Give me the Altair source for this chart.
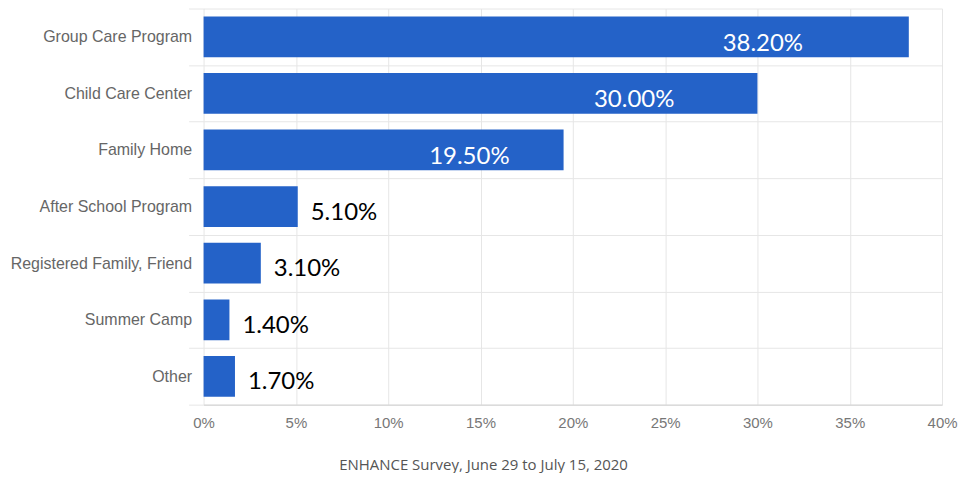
import altair as alt
import pandas as pd

categories = ["Group Care Program", "Child Care Center", "Family Home",
              "After School Program", "Registered Family, Friend",
              "Summer Camp", "Other"]
values = [38.2, 30.0, 19.5, 5.1, 3.1, 1.4, 1.7]
labels = ["38.20%", "30.00%", "19.50%", "5.10%", "3.10%", "1.40%", "1.70%"]
caption = "ENHANCE Survey, June 29 to July 15, 2020"

df = pd.DataFrame({"category": categories, "value": values, "label": labels})

BLUE = "#2462c8"
y_enc = alt.Y("category:N", sort=categories, title=None,
              scale=alt.Scale(paddingInner=0, paddingOuter=0),
              axis=alt.Axis(tickBand="extent", grid=True, gridColor="#e6e6e6",
                            ticks=True, tickColor="#e6e6e6", tickSize=15,
                            labelPadding=-3, domain=False, labelLimit=300,
                            labelFont="Liberation Sans", labelFontSize=16,
                            labelColor="#666666"))

x_scale = alt.Scale(domain=[0, 40], nice=False)

bars = alt.Chart(df).mark_bar(color=BLUE, height={"band": 0.72}).encode(
    x=alt.X("value:Q", scale=x_scale, title=None,
            axis=alt.Axis(values=[0, 5, 10, 15, 20, 25, 30, 35, 40],
                          labelExpr="datum.value + '%'", labelFlush=False,
                          grid=True, gridColor="#e6e6e6",
                          domain=True, domainColor="#d0d0d0",
                          ticks=False, labelPadding=11,
                          labelFont="Liberation Sans", labelFontSize=15,
                          labelColor="#777777")),
    y=y_enc,
)

inside = alt.Chart(df).transform_filter("datum.value > 10").transform_calculate(
    lx="datum.value * 0.85"
).mark_text(align="right", baseline="middle", dy=7, font="Lato",
            fontSize=24, color="white").encode(
    x=alt.X("lx:Q", scale=x_scale),
    y=alt.Y("category:N", sort=categories),
    text="label:N",
)

outside = alt.Chart(df).transform_filter("datum.value <= 10").mark_text(
    align="left", baseline="middle", dx=13, dy=6, font="Lato",
    fontSize=24, color="black").encode(
    x=alt.X("value:Q", scale=x_scale),
    y=alt.Y("category:N", sort=categories),
    text="label:N",
)

chart = alt.layer(bars, inside, outside).properties(
    width=740, height=397,
    autosize=alt.AutoSizeParams(type="none"),
    padding={"left": 196, "top": 0, "right": 17, "bottom": 68},
    title=alt.TitleParams(caption, orient="bottom", anchor="middle",
                          frame="bounds", font="Open Sans", fontSize=15,
                          fontWeight="normal", color="#555555", offset=27),
).configure_view(stroke=None)

chart.save("out.html", embed_options={"renderer": "svg", "actions": False})
